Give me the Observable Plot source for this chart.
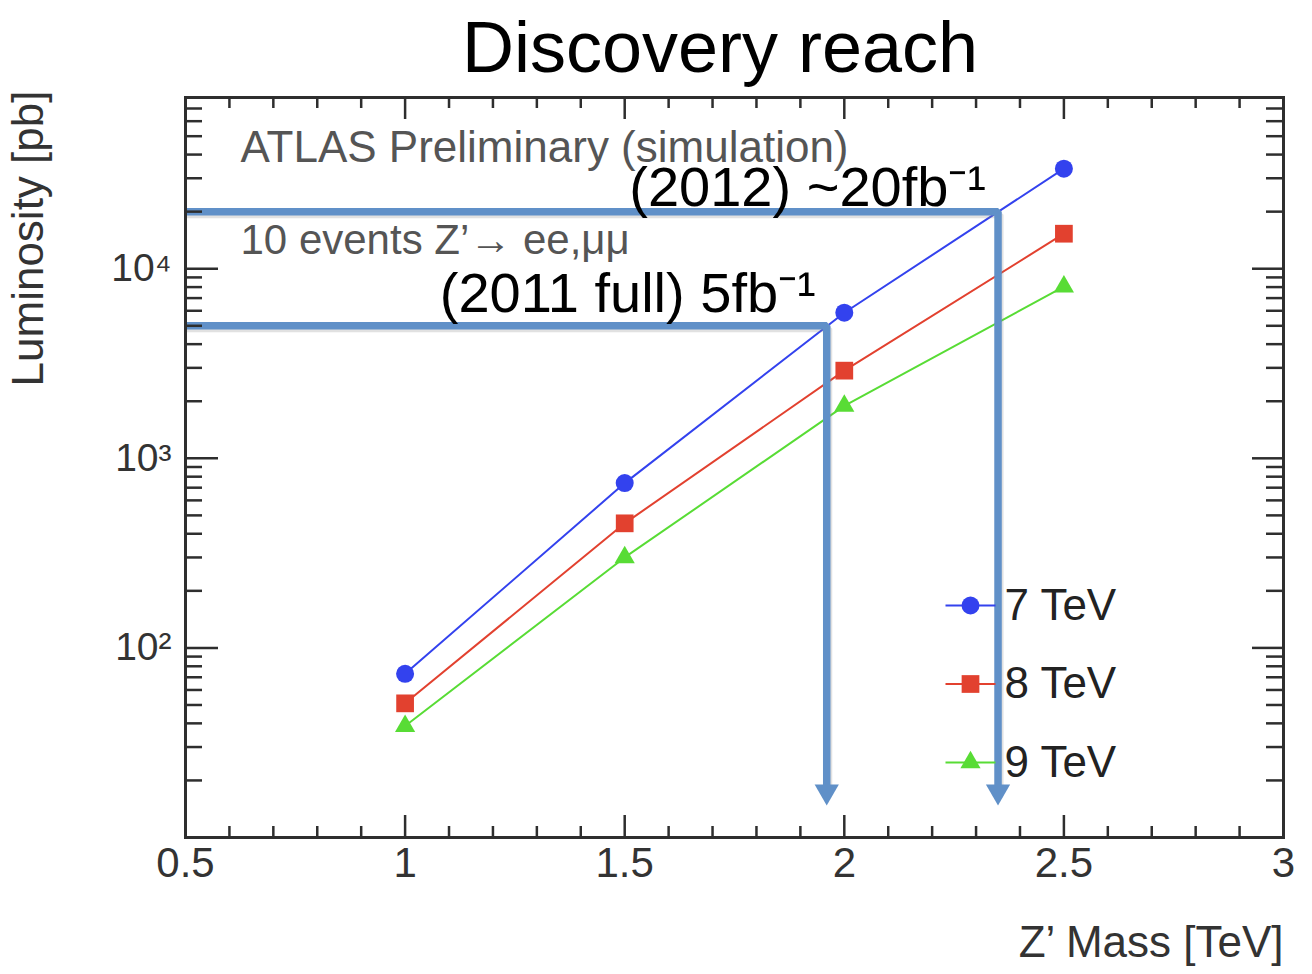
<!DOCTYPE html>
<html><head><meta charset="utf-8">
<script src="https://cdn.jsdelivr.net/npm/d3@7"></script>
<script src="https://cdn.jsdelivr.net/npm/@observablehq/plot@0.6"></script>
<style>
body{margin:0;background:#fff;font-family:"Liberation Sans",Arial,Helvetica,sans-serif;}
#title{height:90px;line-height:94px;font-size:72px;text-align:center;padding-left:128px;color:#000;white-space:nowrap;}
#chart svg{display:block;}
</style></head><body>
<div id="title">Discovery reach</div>
<div id="chart"></div>
<script>
// ---- data ----
const masses = [1, 1.5, 2, 2.5];
const seriesNames = ["7 TeV", "8 TeV", "9 TeV"];
const lumi7 = [73, 740, 5860, 33700];
const lumi8 = [51, 454, 2900, 15300];
const lumi9 = [38.7, 300, 1890, 8040];
const seriesColors = ["#3342ee", "#e2412f", "#58dc35"];
const seriesSymbols = ["circle", "square", "triangle"];
const seriesRadius = [9, 10, 7.5];
const reachLabels = ["(2012) ~20fb⁻¹", "(2011 full) 5fb⁻¹"];
const reachLumi = [20000, 5000];
const reachMass = [2.35, 1.96];
const arrowEnd = 17.5;
const xTicks = [0.5, 1, 1.5, 2, 2.5, 3];
const xTickLabels = ["0.5", "1", "1.5", "2", "2.5", "3"];
const yTicks = [100, 1000, 10000];
const yTickLabels = ["10²", "10³", "10⁴"];

// ---- derived ----
const seriesValues = [lumi7, lumi8, lumi9];
const xMinor = d3.range(5, 31).map(i => i / 10).filter(v => !xTicks.includes(v));
const yMinor = [10, 100, 1000, 10000].flatMap(d => d3.range(2, 10).map(k => k * d)).filter(v => v <= 80000);
const reach = reachLabels.map((label, i) => ({label, lumi: reachLumi[i], mass: reachMass[i]}));
const arrowPath = reach.flatMap((r, i) => [
  {x: 0.5, y: r.lumi, z: i},
  {x: r.mass, y: r.lumi, z: i},
  {x: r.mass, y: arrowEnd, z: i}
]);

const W = 1312, H = 884;
const mL = 185, mR = 29, mT = 7, mB = 137;
const FW = W - mL - mR, FH = H - mT - mB;
const axisColor = "#2e2e2e";
const arrowColor = "#6090c8";
const legendLine = {draw(ctx) { ctx.moveTo(-25, 0); ctx.lineTo(25, 0); }};

const marks = [];
// data lines and markers
seriesNames.forEach((name, i) => {
  const rows = masses.map((m, j) => ({mass: m, lumi: seriesValues[i][j]}));
  marks.push(Plot.line(rows, {x: "mass", y: "lumi", stroke: seriesColors[i], strokeWidth: 2}));
});
seriesNames.forEach((name, i) => {
  const rows = masses.map((m, j) => ({mass: m, lumi: seriesValues[i][j]}));
  marks.push(Plot.dot(rows, {x: "mass", y: "lumi", symbol: seriesSymbols[i], r: seriesRadius[i], fill: seriesColors[i], stroke: "none"}));
});
// reach arrows (shadow then line)
marks.push(Plot.line(arrowPath, {x: "x", y: "y", z: "z", stroke: "#888", strokeOpacity: 0.25, strokeWidth: 7, dx: 2, dy: 3, strokeLinejoin: "miter"}));
marks.push(Plot.line(arrowPath, {x: "x", y: "y", z: "z", stroke: arrowColor, strokeWidth: 7.5, strokeLinejoin: "miter", strokeLinecap: "butt"}));
marks.push(Plot.dot(reach, {x: "mass", y: () => arrowEnd, symbol: "triangle", rotate: 180, r: 9, fill: arrowColor, stroke: "none"}));
// reach labels
const reachDy = [-24, -32], reachDx = [-12, -11];
reach.forEach((r, i) => {
  marks.push(Plot.text([r], {x: "mass", y: "lumi", text: "label", textAnchor: "end", lineAnchor: "middle", dx: reachDx[i], dy: reachDy[i], fontSize: 56, fill: "#000"}));
});
// in-frame annotations
marks.push(Plot.text(["ATLAS Preliminary (simulation)"], {frameAnchor: "top-left", textAnchor: "start", lineAnchor: "middle", dx: 55, dy: 50, fontSize: 44, fill: "#555"}));
marks.push(Plot.text(["10 events Z’→ ee,μμ"], {frameAnchor: "top-left", textAnchor: "start", lineAnchor: "middle", dx: 55, dy: 143, fontSize: 42, fill: "#555"}));
// legend
seriesNames.forEach((name, i) => {
  const dy = -232 + i * 78.5;
  marks.push(Plot.dot([name], {frameAnchor: "bottom-right", dx: -313, dy, symbol: legendLine, r: 5, stroke: seriesColors[i], strokeWidth: 2, fill: "none"}));
  marks.push(Plot.dot([name], {frameAnchor: "bottom-right", dx: -313, dy, symbol: seriesSymbols[i], r: seriesRadius[i], fill: seriesColors[i], stroke: "none"}));
  marks.push(Plot.text([name], {frameAnchor: "bottom-right", dx: -279, dy, textAnchor: "start", lineAnchor: "middle", fontSize: 44, fill: "#222"}));
});
// ticks (ROOT-style, inward on all four sides)
const tk = {stroke: axisColor, strokeWidth: 2.5};
marks.push(Plot.tickX(xTicks, {x: d => d, insetTop: FH - 22, ...tk}));
marks.push(Plot.tickX(xTicks, {x: d => d, insetBottom: FH - 22, ...tk}));
marks.push(Plot.tickX(xMinor, {x: d => d, insetTop: FH - 11, ...tk}));
marks.push(Plot.tickX(xMinor, {x: d => d, insetBottom: FH - 11, ...tk}));
marks.push(Plot.tickY(yTicks, {y: d => d, insetRight: FW - 33, ...tk}));
marks.push(Plot.tickY(yTicks, {y: d => d, insetLeft: FW - 31, ...tk}));
marks.push(Plot.tickY(yMinor, {y: d => d, insetRight: FW - 17, ...tk}));
marks.push(Plot.tickY(yMinor, {y: d => d, insetLeft: FW - 17, ...tk}));
marks.push(Plot.frame({stroke: axisColor, strokeWidth: 3}));
// tick labels
marks.push(Plot.text(xTicks, {x: d => d, frameAnchor: "bottom", lineAnchor: "top", dy: 10, text: (d, i) => xTickLabels[i], fontSize: 42, fill: "#333"}));
marks.push(Plot.text(yTicks, {y: d => d, frameAnchor: "left", textAnchor: "end", lineAnchor: "middle", dx: -14, text: (d, i) => yTickLabels[i], fontSize: 39, fill: "#333"}));
// axis titles
marks.push(Plot.text(["Z’ Mass [TeV]"], {frameAnchor: "bottom-right", textAnchor: "end", lineAnchor: "middle", dy: 105, fontSize: 44, fill: "#333"}));
marks.push(Plot.text(["Luminosity [pb]"], {frameAnchor: "top-left", rotate: -90, textAnchor: "end", lineAnchor: "middle", dx: -157, dy: -7, fontSize: 44, fill: "#333"}));

const chart = Plot.plot({
  width: W, height: H,
  marginLeft: mL, marginRight: mR, marginTop: mT, marginBottom: mB,
  x: {domain: [0.5, 3], axis: null},
  y: {type: "log", domain: [10, 80000], axis: null},
  style: {fontFamily: "'Liberation Sans', Arial, Helvetica, sans-serif", background: "#fff", overflow: "visible"},
  marks
});
document.getElementById("chart").appendChild(chart);
</script>
</body></html>
